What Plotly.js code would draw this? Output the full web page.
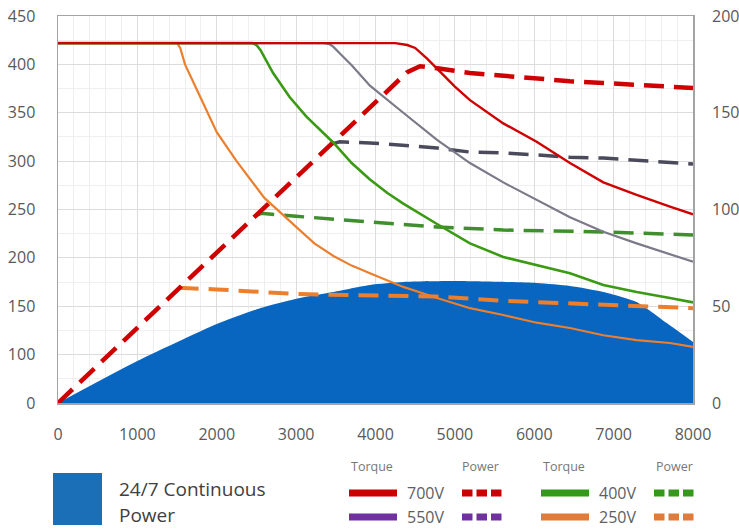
<!DOCTYPE html>
<html>
<head>
<meta charset="utf-8">
<script src="https://cdn.plot.ly/plotly-3.0.1.min.js"></script>
<style>html,body{margin:0;padding:0;background:#fff;}#chart{width:739px;height:529px;}</style>
</head>
<body>
<div id="chart"></div>
<script>
// ---- data (rpm on x; torque in Nm on left axis; power in kW on right axis) ----
const xTicks = [0, 1000, 2000, 3000, 4000, 5000, 6000, 7000, 8000];
const torqueTickVals = [50, 100, 150, 200, 250, 300, 350, 400, 450];
const torqueTickText = ['0', '100', '150', '200', '250', '300', '350', '400', '450'];
const powerTicks = [0, 50, 100, 150, 200];

const contRpm   = [0, 950, 2000, 2545, 3050, 3470, 3930, 4350, 5000, 6030, 6450, 6870, 7290, 7670, 8000];
const contPower = [0, 20.7, 40.8, 49, 54.3, 57.4, 61, 62.5, 63, 62, 60.5, 57.4, 52.2, 41.3, 31.5];

const t700Rpm = [0, 4250, 4400, 4500, 4650, 4775, 5000, 5190, 5610, 6030, 6450, 6870, 7290, 7710, 8000];
const t700    = [422, 422, 420, 417, 406, 396, 377, 363, 339, 320, 298, 278, 265, 253, 245];
const p700Rpm = [0, 4400, 4560, 4780, 5190, 5610, 6030, 6450, 6870, 7290, 8000];
const p700    = [0, 171, 174, 173, 170.5, 169, 167.4, 166.3, 165.4, 164.3, 162.8];

const t550Rpm = [0, 3350, 3420, 3470, 3580, 3700, 3930, 4150, 4350, 4775, 5190, 5610, 6030, 6450, 6870, 7290, 8000];
const t550    = [422, 422, 421, 418, 409, 399, 378, 363, 350, 322, 298, 278, 260, 242, 227, 215, 196];
const p550Rpm = [3420, 3550, 3930, 4350, 4775, 5190, 5610, 6030, 6450, 6870, 7290, 8000];
const p550    = [133.5, 135, 134.4, 133.3, 131.8, 129.7, 129.2, 128.2, 127, 126.6, 125.6, 123.5];

const t400Rpm = [0, 2450, 2500, 2550, 2710, 2920, 3130, 3470, 3700, 3930, 4150, 4350, 4775, 5190, 5610, 6030, 6450, 6870, 7290, 7710, 8000];
const t400    = [422, 422, 420, 415, 391, 366, 346, 319, 298, 281, 267, 256, 235, 215, 201, 192.6, 184, 172, 164.7, 158.5, 154];
const p400Rpm = [2480, 2560, 3000, 3930, 4775, 5610, 6870, 8000];
const p400    = [96.5, 98, 96.5, 93.5, 91, 89.4, 88.4, 86.8];

const t250Rpm = [0, 1500, 1540, 1600, 1800, 2000, 2250, 2600, 3000, 3230, 3470, 3700, 3930, 4350, 4775, 5190, 5610, 6030, 6450, 6870, 7290, 7710, 8000];
const t250    = [422, 422, 417, 400, 365, 330, 300, 262, 232, 215, 202, 192, 184, 170, 158.5, 148, 141, 133, 127.5, 120, 115, 112, 108];
const p250Rpm = [1520, 2000, 3000, 3930, 4775, 5610, 6450, 7290, 8000];
const p250    = [59.5, 58.7, 56.3, 55.8, 55, 52.8, 51.5, 50.6, 49];

const legendSeries = ['700V', '550V', '400V', '250V'];
const legendColors = ['#cc0000', '#7030a0', '#339918', '#e07b39'];
const areaLabel = ['24/7 Continuous', 'Power'];

// ---- styling ----
const RED = '#d00000', GRAY = '#7a7a88', GRAYD = '#4a4a5c', GREEN = '#3a9a14', GREEND = '#3f8f2c', ORANGE = '#ec7f2e';
const FONT = 'Open Sans, DejaVu Sans, sans-serif';

const traces = [
  {x: contRpm, y: contPower, yaxis: 'y', mode: 'lines', fill: 'tozeroy',
   fillcolor: '#0865c0', line: {width: 0, color: '#0865c0', shape: 'spline', smoothing: 0.6}},
  {x: p250Rpm, y: p250, yaxis: 'y', mode: 'lines', line: {color: ORANGE, width: 4, dash: '20px,10px'}},
  {x: p400Rpm, y: p400, yaxis: 'y', mode: 'lines', line: {color: GREEND, width: 3.5, dash: '20px,10px'}},
  {x: p550Rpm, y: p550, yaxis: 'y', mode: 'lines', line: {color: GRAYD, width: 3.5, dash: '20px,10px'}},
  {x: p700Rpm, y: p700, yaxis: 'y', mode: 'lines', line: {color: RED, width: 4.5, dash: '20px,10px'}},
  {x: t250Rpm, y: t250, yaxis: 'y2', mode: 'lines', line: {color: ORANGE, width: 2.2}},
  {x: t400Rpm, y: t400, yaxis: 'y2', mode: 'lines', line: {color: GREEN, width: 2.6}},
  {x: t550Rpm, y: t550, yaxis: 'y2', mode: 'lines', line: {color: GRAY, width: 2.2}},
  {x: t700Rpm, y: t700, yaxis: 'y2', mode: 'lines', line: {color: RED, width: 2.4}}
];
traces.forEach(t => { t.type = 'scatter'; t.showlegend = false; t.hoverinfo = 'skip'; });

// pixel -> paper helpers for the legend block
const L = 58, R = 693, T = 16, B = 403;
const px = x => (x - L) / (R - L);
const py = y => (B - y) / (B - T);

const shapes = [];
const annotations = [];
shapes.push({type: 'rect', xref: 'paper', yref: 'paper', x0: px(53), x1: px(102), y0: py(525), y1: py(473),
  fillcolor: '#1b6fb7', line: {width: 0}});
areaLabel.forEach((t, i) => annotations.push({xref: 'paper', yref: 'paper', x: px(117), y: py(489 + 26 * i),
  xanchor: 'left', yanchor: 'middle', text: t, showarrow: false, font: {family: FONT, size: 19, color: '#404040'}}));
[[349, 'Torque'], [460, 'Power'], [541, 'Torque'], [654, 'Power']].forEach(h => annotations.push({
  xref: 'paper', yref: 'paper', x: px(h[0]), y: py(466), xanchor: 'left', yanchor: 'middle', text: h[1],
  showarrow: false, font: {family: FONT, size: 12.5, color: '#777777'}}));
legendSeries.forEach((name, i) => {
  const col = Math.floor(i / 2) ? 192 : 0;
  const rowY = i % 2 ? 517 : 493;
  const c = legendColors[i];
  shapes.push({type: 'rect', xref: 'paper', yref: 'paper', x0: px(349 + col), x1: px(397 + col),
    y0: py(rowY + 3.5), y1: py(rowY - 3.5), fillcolor: c, line: {width: 0}});
  for (let k = 0; k < 3; k++) {
    const x0 = 462 + col + k * 14.5;
    shapes.push({type: 'rect', xref: 'paper', yref: 'paper', x0: px(x0), x1: px(x0 + 10.5),
      y0: py(rowY + 3.5), y1: py(rowY - 3.5), fillcolor: c, line: {width: 0}});
  }
  annotations.push({xref: 'paper', yref: 'paper', x: px(405 + col), y: py(rowY), xanchor: 'left', yanchor: 'middle',
    text: name, showarrow: false, font: {family: FONT, size: 16, color: '#5e5e5e'}});
});

const layout = {
  width: 739, height: 529,
  margin: {l: L, r: 739 - R, t: T, b: 529 - B, pad: 0},
  paper_bgcolor: '#ffffff', plot_bgcolor: '#ffffff',
  font: {family: FONT, size: 16, color: '#595959'},
  showlegend: false,
  xaxis: {range: [0, 8000], tickvals: xTicks, ticks: '', ticklabelstandoff: 16,
    showline: true, mirror: true, linecolor: '#a3a3a3', linewidth: 1.5,
    showgrid: true, gridcolor: '#dcdcdc', gridwidth: 1, zeroline: false,
    minor: {dtick: 200, tick0: 0, showgrid: true, gridcolor: '#efefef', gridwidth: 1, ticks: ''},
    tickfont: {family: FONT, size: 16, color: '#595959'}},
  yaxis: {range: [0, 200], side: 'right', tickvals: powerTicks, ticks: '', ticklabelstandoff: 18,
    showgrid: false, zeroline: false, showline: false,
    tickfont: {family: FONT, size: 16, color: '#595959'}},
  yaxis2: {range: [50, 450], overlaying: 'y', side: 'left', tickmode: 'array', tickvals: torqueTickVals,
    ticktext: torqueTickText, ticks: '', ticklabelstandoff: 18,
    showline: true, mirror: true, linecolor: '#a3a3a3', linewidth: 1.5,
    showgrid: true, gridcolor: '#dcdcdc', gridwidth: 1, zeroline: false,
    minor: {tickmode: 'linear', tick0: 50, dtick: 25, showgrid: true, gridcolor: '#efefef', gridwidth: 1, ticks: ''},
    tickfont: {family: FONT, size: 16, color: '#595959'}},
  shapes: shapes,
  annotations: annotations
};

Plotly.newPlot('chart', traces, layout, {staticPlot: true, displayModeBar: false});
</script>
</body>
</html>
